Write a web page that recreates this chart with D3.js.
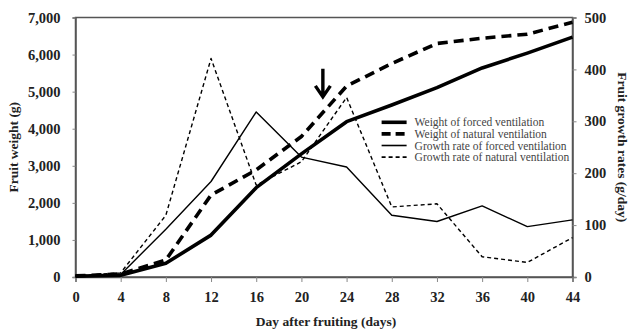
<!DOCTYPE html>
<html>
<head>
<meta charset="utf-8">
<script src="https://cdn.jsdelivr.net/npm/d3@7"></script>
<style>
  body { margin: 0; background: #fff; }
</style>
</head>
<body>
<div id="container"></div>
<script>
const width = 629, height = 330;
const margin = {top: 17.5, right: 56.5, bottom: 53, left: 75.5};
const serif = '"Liberation Serif", "Times New Roman", serif';

// data
const days = [0, 4, 8, 12, 16, 20, 24, 28, 32, 36, 40, 44];
const weightForced = [20, 50, 370, 1130, 2410, 3320, 4190, 4640, 5110, 5640, 6040, 6470];
const weightNatural = [30, 80, 460, 2210, 2890, 3790, 5150, 5760, 6300, 6440, 6550, 6870];
const rateForced = [2, 5, 92, 184, 318, 231, 212, 119, 107, 137, 97, 110];
const rateNatural = [2, 8, 119, 421, 177, 222, 346, 135, 141, 39, 28, 76];
const leftTicks = [0, 1000, 2000, 3000, 4000, 5000, 6000, 7000];
const rightTicks = [0, 100, 200, 300, 400, 500];
const xTicks = [0, 4, 8, 12, 16, 20, 24, 28, 32, 36, 40, 44];
const arrowDay = 21.9, arrowTail = 5620, arrowTip = 4860;

const seriesList = [
  {name: "Weight of forced ventilation", values: weightForced, axis: "left", w: 3.6, dash: null},
  {name: "Weight of natural ventilation", values: weightNatural, axis: "left", w: 3.6, dash: "10,6"},
  {name: "Growth rate of forced ventilation", values: rateForced, axis: "right", w: 1.4, dash: null},
  {name: "Growth rate of natural ventilation", values: rateNatural, axis: "right", w: 1.4, dash: "4,3"}
];

const x = d3.scaleLinear().domain([0, 44]).range([margin.left, width - margin.right]);
const yL = d3.scaleLinear().domain([0, 7000]).range([height - margin.bottom, margin.top]);
const yR = d3.scaleLinear().domain([0, 500]).range([height - margin.bottom, margin.top]);

const svg = d3.select("#container").append("svg")
  .attr("width", width).attr("height", height)
  .style("font-family", serif);

// frame
svg.append("rect")
  .attr("x", x(0)).attr("y", yL(7000))
  .attr("width", x(44) - x(0)).attr("height", yL(0) - yL(7000))
  .attr("fill", "none").attr("stroke", "#555").attr("stroke-width", 1.5);

// axes
const fmt = d3.format(",");
const axL = svg.append("g").attr("transform", `translate(${x(0)},0)`)
  .call(d3.axisLeft(yL).tickValues(leftTicks).tickFormat(fmt).tickSize(3).tickPadding(12));
const axR = svg.append("g").attr("transform", `translate(${x(44)},0)`)
  .call(d3.axisRight(yR).tickValues(rightTicks).tickSize(4).tickPadding(8));
const axB = svg.append("g").attr("transform", `translate(0,${yL(0)})`)
  .call(d3.axisBottom(x).tickValues(xTicks).tickSize(5).tickPadding(10));

[axL, axR, axB].forEach(a => {
  a.attr("font-family", null);
  a.select(".domain").attr("stroke", "#555").attr("stroke-width", 1.5);
  a.selectAll(".tick line").attr("stroke", "#888");
  a.selectAll("text")
    .style("font-family", serif).style("font-weight", "bold").style("font-size", "14.5px")
    .attr("fill", "#222");
});

// lines
const line = (yScale) => d3.line().x((d, i) => x(days[i])).y(d => yScale(d));
seriesList.forEach(s => {
  svg.append("path")
    .datum(s.values)
    .attr("fill", "none")
    .attr("stroke", "#000")
    .attr("stroke-width", s.w)
    .attr("stroke-dasharray", s.dash)
    .attr("stroke-linejoin", "round")
    .attr("d", line(s.axis === "left" ? yL : yR));
});

// arrow
const ax = x(arrowDay);
svg.append("path")
  .attr("d", `M${ax},${yL(arrowTail)} L${ax},${yL(arrowTip)} M${ax - 7.5},${yL(arrowTip) - 11} L${ax},${yL(arrowTip)} L${ax + 7.5},${yL(arrowTip) - 11}`)
  .attr("fill", "none").attr("stroke", "#000").attr("stroke-width", 3.4);

// legend
const legend = svg.append("g").attr("transform", `translate(${x(27.1)},${yR(300) + 1})`);
seriesList.forEach((s, i) => {
  const g = legend.append("g").attr("transform", `translate(0,${i * 11.6})`);
  g.append("line").attr("x1", 0).attr("x2", 25).attr("y1", 0).attr("y2", 0)
    .attr("stroke", "#000").attr("stroke-width", s.w === 1.4 ? 1.6 : 3.6)
    .attr("stroke-dasharray", s.dash === "10,6" ? "9,5" : s.dash);
  g.append("text").attr("x", 33).attr("y", 0).attr("dy", "0.35em")
    .style("font-family", serif).style("font-size", "11.5px")
    .attr("fill", "#444").text(s.name);
});

// axis titles
const title = (t) => t.attr("text-anchor", "middle")
  .style("font-family", serif).style("font-weight", "bold").style("font-size", "13.5px")
  .attr("fill", "#222");
svg.append("text")
  .attr("x", (x(0) + x(44)) / 2 + 2).attr("y", 326)
  .call(title).text("Day after fruiting (days)");
svg.append("text")
  .attr("transform", `translate(18,${(yL(0) + yL(7000)) / 2}) rotate(-90)`)
  .call(title).text("Fruit weight (g)");
svg.append("text")
  .attr("transform", `translate(618,${(yL(0) + yL(7000)) / 2}) rotate(90)`)
  .call(title).text("Fruit growth rates (g/day)");
</script>
</body>
</html>
